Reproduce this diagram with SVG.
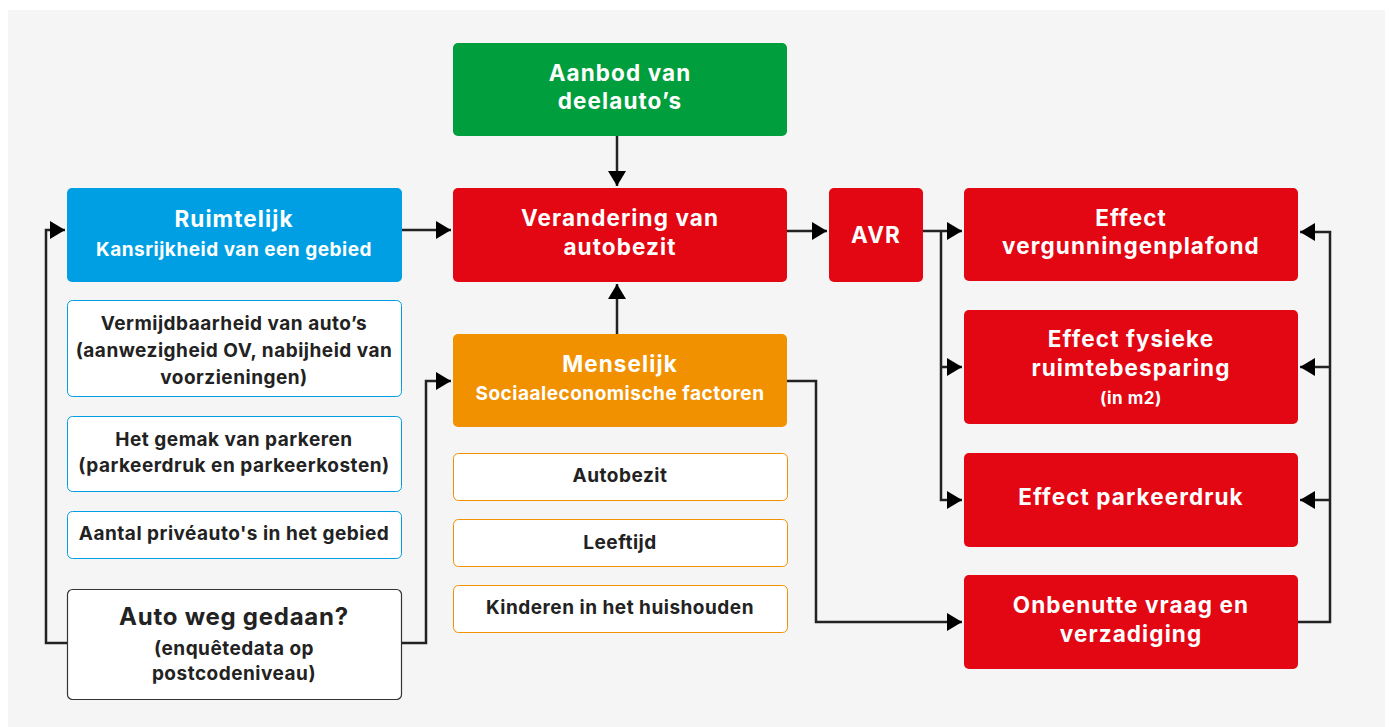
<svg xmlns="http://www.w3.org/2000/svg" width="1389" height="727" viewBox="0 0 1389 727">
<defs>
<marker id="arr" markerUnits="userSpaceOnUse" markerWidth="16" markerHeight="18" refX="15" refY="9" orient="auto">
<path d="M0,0 L15,9 L0,18 Z" fill="#000"/>
</marker>
<style>
.t{font-family:Inter,"Open Sans","Liberation Sans",sans-serif;font-weight:700;text-anchor:middle}
.w{fill:#fff}
.d{fill:#222}
.big{font-size:22.5px;letter-spacing:1.1px}
.sub{font-size:19px;letter-spacing:0.5px}
.sm{font-size:19px;letter-spacing:0.5px}
.red{fill:#e30613}
.ob{fill:#fff;stroke:#f29100;stroke-width:1}
.bb{fill:#fff;stroke:#009fe3;stroke-width:1}
.c{fill:none;stroke:#222;stroke-width:2.5}
</style>
</defs>
<rect x="0" y="0" width="1389" height="727" fill="#fff"/>
<rect x="8" y="10" width="1377" height="717" fill="#f5f5f5"/>

<g id="connectors">
<path class="c" d="M617,136 V186" marker-end="url(#arr)"/>
<path class="c" d="M402,230 H451" marker-end="url(#arr)"/>
<path class="c" d="M617,334 V284" marker-end="url(#arr)"/>
<path class="c" d="M787,231 H827" marker-end="url(#arr)"/>
<path class="c" d="M923,231 H962" marker-end="url(#arr)"/>
<path class="c" d="M941,231 V500 H962" marker-end="url(#arr)"/>
<path class="c" d="M941,367 H962" marker-end="url(#arr)"/>
<path class="c" d="M787,381 H816 V622 H962" marker-end="url(#arr)"/>
<path class="c" d="M1298,622 H1330 V232 H1300" marker-end="url(#arr)"/>
<path class="c" d="M1330,367 H1300" marker-end="url(#arr)"/>
<path class="c" d="M1330,500 H1300" marker-end="url(#arr)"/>
<path class="c" d="M67,643 H46 V230 H65" marker-end="url(#arr)"/>
<path class="c" d="M402,643 H426 V381 H451" marker-end="url(#arr)"/>
</g>

<g id="aanbod">
<rect x="453" y="43" width="334" height="93" rx="5" fill="#009e3d"/>
<text class="t w big" x="620" y="81">Aanbod van</text>
<text class="t w big" x="620" y="109">deelauto’s</text>
</g>

<g id="ruimtelijk">
<rect x="67" y="188" width="335" height="94" rx="5" fill="#009fe3"/>
<text class="t w big" x="234" y="227">Ruimtelijk</text>
<text class="t w sub" x="234" y="256">Kansrijkheid van een gebied</text>
</g>

<g id="verandering">
<rect x="453" y="188" width="334" height="94" rx="5" class="red"/>
<text class="t w big" x="620" y="226">Verandering van</text>
<text class="t w big" x="620" y="255">autobezit</text>
</g>

<g id="avr">
<rect x="829" y="188" width="94" height="94" rx="5" class="red"/>
<text class="t w big" x="876" y="243">AVR</text>
</g>

<g id="vergunning">
<rect x="964" y="188" width="334" height="93" rx="5" class="red"/>
<text class="t w big" x="1131" y="226">Effect</text>
<text class="t w big" x="1131" y="254">vergunningenplafond</text>
</g>

<g id="fysiek">
<rect x="964" y="310" width="334" height="114" rx="5" class="red"/>
<text class="t w big" x="1131" y="347">Effect fysieke</text>
<text class="t w big" x="1131" y="376">ruimtebesparing</text>
<text class="t w" style="font-size:17px;letter-spacing:0.5px" x="1131" y="404">(in m2)</text>
</g>

<g id="parkeerdruk">
<rect x="964" y="453" width="334" height="94" rx="5" class="red"/>
<text class="t w big" x="1131" y="505">Effect parkeerdruk</text>
</g>

<g id="onbenut">
<rect x="964" y="575" width="334" height="94" rx="5" class="red"/>
<text class="t w big" x="1131" y="613">Onbenutte vraag en</text>
<text class="t w big" x="1131" y="642">verzadiging</text>
</g>

<g id="vermijd">
<rect x="67.5" y="300.5" width="334" height="96" rx="5" class="bb"/>
<text class="t d sm" x="234" y="330">Vermijdbaarheid van auto’s</text>
<text class="t d sm" x="234" y="357">(aanwezigheid OV, nabijheid van</text>
<text class="t d sm" x="234" y="384">voorzieningen)</text>
</g>

<g id="gemak">
<rect x="67.5" y="416.5" width="334" height="75" rx="5" class="bb"/>
<text class="t d sm" x="234" y="446">Het gemak van parkeren</text>
<text class="t d sm" x="234" y="472">(parkeerdruk en parkeerkosten)</text>
</g>

<g id="aantal">
<rect x="67.5" y="511.5" width="334" height="47" rx="5" class="bb"/>
<text class="t d sm" x="234" y="540">Aantal privéauto's in het gebied</text>
</g>

<g id="autoweg">
<rect x="67.5" y="589.5" width="334" height="110" rx="5" fill="#fff" stroke="#333" stroke-width="1.2"/>
<text class="t d" style="font-size:24px;letter-spacing:0.75px" x="234" y="625">Auto weg gedaan?</text>
<text class="t d sub" x="234" y="655">(enquêtedata op</text>
<text class="t d sub" x="234" y="680">postcodeniveau)</text>
</g>

<g id="menselijk">
<rect x="453" y="334" width="334" height="93" rx="5" fill="#f29100"/>
<text class="t w big" x="620" y="372">Menselijk</text>
<text class="t w sub" x="620" y="400">Sociaaleconomische factoren</text>
</g>

<g id="autobezit">
<rect x="453.5" y="453.5" width="334" height="47" rx="5" class="ob"/>
<text class="t d sm" x="620" y="482">Autobezit</text>
</g>

<g id="leeftijd">
<rect x="453.5" y="519.5" width="334" height="47" rx="5" class="ob"/>
<text class="t d sm" x="620" y="549">Leeftijd</text>
</g>

<g id="kinderen">
<rect x="453.5" y="585.5" width="334" height="47" rx="5" class="ob"/>
<text class="t d sm" x="620" y="614">Kinderen in het huishouden</text>
</g>
</svg>
